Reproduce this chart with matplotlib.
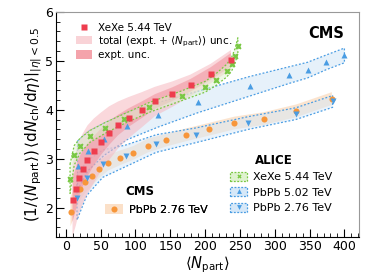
import numpy as np
import matplotlib
matplotlib.use('Agg')
import matplotlib.pyplot as plt
from matplotlib.patches import Patch
from matplotlib.lines import Line2D
from matplotlib.ticker import MultipleLocator

# CMS XeXe 5.44 TeV
cms_xe_x = [9.6, 14.4, 18.2, 24, 31, 40, 50, 62, 75, 90, 109, 128, 153, 179, 208, 237]
cms_xe_y = [2.16, 2.39, 2.60, 2.79, 2.98, 3.16, 3.34, 3.52, 3.69, 3.84, 4.00, 4.17, 4.32, 4.50, 4.74, 5.02]
cms_xe_tot = [0.75, 0.75, 0.74, 0.72, 0.70, 0.66, 0.60, 0.55, 0.48, 0.42, 0.36, 0.30, 0.26, 0.22, 0.20, 0.20]
cms_xe_exp = [0.45, 0.42, 0.40, 0.37, 0.34, 0.30, 0.27, 0.24, 0.21, 0.19, 0.17, 0.15, 0.14, 0.13, 0.13, 0.14]

# CMS PbPb 2.76 TeV
cms_pb_x = [6.7, 20, 28, 38, 48, 61, 78, 97, 118, 144, 173, 205, 242, 284, 331, 382]
cms_pb_y = [1.92, 2.39, 2.53, 2.65, 2.79, 2.92, 3.02, 3.12, 3.27, 3.38, 3.49, 3.60, 3.73, 3.82, 3.98, 4.23]
cms_pb_err = [0.30, 0.25, 0.22, 0.20, 0.18, 0.16, 0.15, 0.14, 0.14, 0.13, 0.13, 0.13, 0.13, 0.13, 0.13, 0.13]

# ALICE XeXe 5.44 TeV
al_xe_x = [6, 12, 20.5, 35, 56.5, 84, 120, 167, 200, 215, 231, 238, 243, 247]
al_xe_y = [2.59, 3.07, 3.27, 3.46, 3.63, 3.82, 4.05, 4.29, 4.47, 4.61, 4.80, 4.93, 5.10, 5.31]
al_xe_err = [0.30, 0.20, 0.15, 0.12, 0.11, 0.10, 0.10, 0.10, 0.11, 0.12, 0.13, 0.14, 0.15, 0.16]

# ALICE PbPb 5.02 TeV
al_pb5_x = [16.8, 32, 55, 88, 133, 189.5, 264, 321, 347, 374, 400]
al_pb5_y = [2.86, 3.16, 3.40, 3.67, 3.90, 4.16, 4.48, 4.71, 4.81, 4.97, 5.11]
al_pb5_err = [0.50, 0.40, 0.33, 0.28, 0.25, 0.22, 0.20, 0.17, 0.16, 0.15, 0.15]

# ALICE PbPb 2.76 TeV
al_pb2_x = [16, 30, 53, 86, 129.5, 187, 262, 330, 383]
al_pb2_y = [2.20, 2.60, 2.90, 3.06, 3.31, 3.48, 3.73, 3.92, 4.17]
al_pb2_err = [0.45, 0.35, 0.28, 0.22, 0.18, 0.15, 0.13, 0.12, 0.12]

red = '#ee3d4e'
orange = '#f7963a'
blue = '#4a9de3'
green = '#79c843'

fig = plt.figure(figsize=(3.74, 2.76), dpi=100)
ax = fig.add_axes([0.150, 0.141, 0.810, 0.816])


def band(x, y, e, fc, alpha, ec=None, z=1):
    x = np.array(x); y = np.array(y); e = np.array(e)
    ax.fill_between(x, y - e, y + e, facecolor=fc, alpha=alpha, lw=0, zorder=z)
    if ec is not None:
        xs = np.concatenate([x, x[::-1], x[:1]])
        ys = np.concatenate([y + e, (y - e)[::-1], (y + e)[:1]])
        ax.plot(xs, ys, ls=(0, (1.5, 1.5)), color=ec, lw=0.9, zorder=z + 0.1)


band(cms_pb_x, cms_pb_y, cms_pb_err, '#f9d3b0', 0.6, z=1)
band(al_pb2_x, al_pb2_y, al_pb2_err, '#d6e8f8', 0.5, ec=blue, z=1.2)
band(al_pb5_x, al_pb5_y, al_pb5_err, '#d6e8f8', 0.6, ec=blue, z=1.3)
band(cms_xe_x, cms_xe_y, cms_xe_tot, '#f6b8c0', 0.55, z=1.5)
band(cms_xe_x, cms_xe_y, cms_xe_exp, '#f08a96', 0.5, z=1.6)
band(al_xe_x, al_xe_y, al_xe_err, '#dff2cf', 0.5, ec=green, z=1.7)

ms = 4.4
ax.plot(cms_pb_x, cms_pb_y, 'o', color=orange, ms=ms, mec='none', zorder=3)
ax.plot(al_pb2_x, al_pb2_y, 'v', color=blue, ms=ms, mec='none', zorder=3)
ax.plot(al_pb5_x, al_pb5_y, '^', color=blue, ms=ms, mec='none', zorder=3)
ax.plot(al_xe_x, al_xe_y, 'X', color=green, ms=ms, mec='none', zorder=3)
ax.plot(cms_xe_x, cms_xe_y, 's', color=red, ms=ms - 0.3, mec='none', zorder=3.5)

ax.set_xlim(-14, 421)
ax.set_ylim(1.4, 6)
ax.xaxis.set_major_locator(MultipleLocator(50))
ax.xaxis.set_minor_locator(MultipleLocator(10))
ax.yaxis.set_major_locator(MultipleLocator(1))
ax.yaxis.set_minor_locator(MultipleLocator(0.2))
ax.tick_params(which='both', direction='in', labelsize=9, pad=2)
ax.tick_params(which='major', length=6)
ax.tick_params(which='minor', length=3)
for s in ['top', 'right']:
    ax.spines[s].set_color('#999999')

ax.set_xlabel(r'$\langle N_{\mathrm{part}}\rangle$', fontsize=10.5, labelpad=1)
ax.set_ylabel(r'$\left(1/\langle N_{\mathrm{part}}\rangle\right)\,\left.\langle \mathrm{d}N_{\mathrm{ch}}/\mathrm{d}\eta\rangle\right|_{|\eta|<0.5}$',
              fontsize=11, labelpad=1)

# top-left legend
h1 = [Line2D([], [], marker='s', ls='none', color=red, ms=ms - 0.3, mec='none'),
      Patch(facecolor='#f9d3d7', edgecolor='none'),
      Patch(facecolor='#f4a3ab', edgecolor='none')]
l1 = ax.legend(h1, ['XeXe 5.44 TeV', r'total (expt. + $\langle N_{\mathrm{part}}\rangle$) unc.', 'expt. unc.'],
               loc='upper left', bbox_to_anchor=(0.04, 0.985), frameon=False, fontsize=7.5,
               handlelength=1.6, handleheight=0.9, labelspacing=0.15, borderpad=0.2, handletextpad=0.6)
ax.add_artist(l1)

# ALICE legend
def dpatch(fc, ec):
    return Patch(facecolor=fc, edgecolor=ec, linestyle=(0, (1.5, 1.2)), lw=0.9)

h2 = [(dpatch('#dff2cf', green), Line2D([], [], marker='X', ls='none', color=green, ms=3, mec='none')),
      (dpatch('#d6e8f8', blue), Line2D([], [], marker='^', ls='none', color=blue, ms=3.5, mec='none')),
      (dpatch('#d6e8f8', blue), Line2D([], [], marker='v', ls='none', color=blue, ms=3.5, mec='none'))]
l2 = ax.legend(h2, ['XeXe 5.44 TeV', 'PbPb 5.02 TeV', 'PbPb 2.76 TeV'],
               loc='upper left', bbox_to_anchor=(0.55, 0.325), frameon=False, fontsize=8,
               handlelength=1.5, handleheight=0.9, labelspacing=0.45, borderpad=0.2, handletextpad=0.5)
ax.add_artist(l2)
ax.text(0.655, 0.31, 'ALICE', transform=ax.transAxes, fontsize=8.5, fontweight='bold', ha='left', va='bottom')

# CMS PbPb legend
h3 = [(Patch(facecolor='#fbe0c8', edgecolor='none'),
       Line2D([], [], marker='o', ls='none', color=orange, ms=ms, mec='none'))]
l3 = ax.legend(h3, ['PbPb 2.76 TeV'], loc='upper left', bbox_to_anchor=(0.135, 0.18), frameon=False,
               fontsize=8, handlelength=1.6, handleheight=1.0, borderpad=0.2, handletextpad=0.6)
ax.add_artist(l3)
ax.text(0.23, 0.175, 'CMS', transform=ax.transAxes, fontsize=8.5, fontweight='bold', ha='left', va='bottom')

ax.text(0.95, 0.905, 'CMS', transform=ax.transAxes, fontsize=10.5, fontweight='bold', ha='right', va='center')

fig.savefig('out.png', dpi=100)
